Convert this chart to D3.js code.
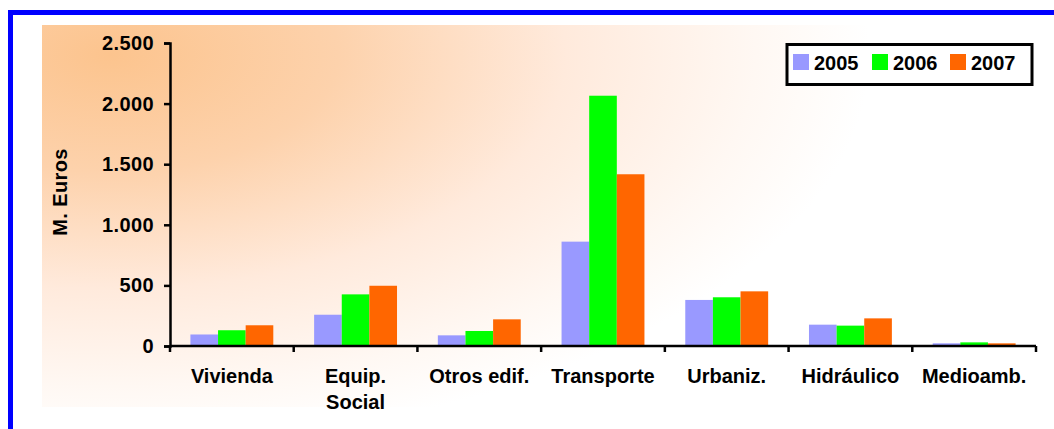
<!DOCTYPE html>
<html>
<head>
<meta charset="utf-8">
<script src="https://cdn.jsdelivr.net/npm/d3@7"></script>
<style>
  html, body { margin: 0; padding: 0; background: #ffffff; }
  svg { display: block; font-family: "Liberation Sans", Arial, sans-serif; }
</style>
</head>
<body>
<svg id="chart" width="1054" height="429"></svg>
<script>
// Inversión por tipo de obra (millones de euros)
const categories = ["Vivienda", "Equip. Social", "Otros edif.", "Transporte", "Urbaniz.", "Hidráulico", "Medioamb."];
const categoryLines = [["Vivienda"], ["Equip.", "Social"], ["Otros edif."], ["Transporte"], ["Urbaniz."], ["Hidráulico"], ["Medioamb."]];
const years = ["2005", "2006", "2007"];
const values2005 = [95, 258, 88, 861, 380, 176, 22];
const values2006 = [130, 426, 124, 2065, 402, 168, 30];
const values2007 = [171, 497, 220, 1417, 451, 228, 22];
const yTicks = [0, 500, 1000, 1500, 2000, 2500];
const yTickLabels = ["0", "500", "1.000", "1.500", "2.000", "2.500"];
const colors = ["#9999ff", "#00ff00", "#ff6600"];

const series = [values2005, values2006, values2007];

const svg = d3.select("#chart");

// Elliptical gradient fading from the top-left corner of the plot area
const defs = svg.append("defs");
const grad = defs.append("radialGradient")
  .attr("id", "bg")
  .attr("gradientUnits", "userSpaceOnUse")
  .attr("cx", 0).attr("cy", 0).attr("r", 1)
  .attr("gradientTransform", "translate(110,55) scale(760,390)");
grad.append("stop").attr("offset", "0").attr("stop-color", "#fcc48e");
grad.append("stop").attr("offset", "0.3").attr("stop-color", "#fdd2ac");
grad.append("stop").attr("offset", "0.6").attr("stop-color", "#ffeadc");
grad.append("stop").attr("offset", "0.85").attr("stop-color", "#fff8f3");
grad.append("stop").attr("offset", "1").attr("stop-color", "#ffffff");

svg.append("rect")
  .attr("x", 42).attr("y", 25).attr("width", 998).attr("height", 382)
  .attr("fill", "url(#bg)");

// Blue frame (top and left edges visible)
svg.append("rect")
  .attr("x", 10.5).attr("y", 12.5).attr("width", 1060).attr("height", 430)
  .attr("fill", "none").attr("stroke", "#0000ff").attr("stroke-width", 5);

const x0 = d3.scaleBand()
  .domain(categories)
  .range([170, 1036])
  .paddingInner(0.33)
  .paddingOuter(0.165);

const x1 = d3.scaleBand()
  .domain(years)
  .range([0, x0.bandwidth()]);

const y = d3.scaleLinear().domain([0, 2500]).range([346, 43]);

// Bars
const groups = svg.append("g").selectAll("g")
  .data(categories)
  .join("g")
  .attr("transform", d => `translate(${x0(d)},0)`);

groups.selectAll("rect")
  .data((d, i) => years.map((yr, k) => ({ yr, k, v: series[k][i] })))
  .join("rect")
  .attr("x", d => x1(d.yr))
  .attr("y", d => y(d.v))
  .attr("width", x1.bandwidth())
  .attr("height", d => y(0) - y(d.v))
  .attr("fill", d => colors[d.k]);

// Y axis
const yAxis = d3.axisLeft(y)
  .tickValues(yTicks)
  .tickFormat((d, i) => yTickLabels[i])
  .tickSize(6)
  .tickPadding(10);

const gy = svg.append("g").attr("transform", "translate(170,0)").call(yAxis);
gy.select(".domain").attr("stroke", "#000").attr("stroke-width", 2.5);
gy.selectAll(".tick line").attr("stroke", "#000").attr("stroke-width", 2.5);
gy.selectAll(".tick text")
  .attr("font-size", 20).attr("font-weight", "bold").attr("fill", "#000")
  .attr("font-family", "Liberation Sans, Arial, sans-serif")
  .style("letter-spacing", "0.4px");

// X axis with ticks between categories
const boundaries = d3.range(categories.length + 1).map(i => 170 + i * x0.step());
const gx = svg.append("g");
gx.append("line")
  .attr("x1", 170).attr("x2", 1036)
  .attr("y1", y(0)).attr("y2", y(0))
  .attr("stroke", "#000").attr("stroke-width", 2.5);
gx.selectAll("line.tk")
  .data(boundaries)
  .join("line")
  .attr("class", "tk")
  .attr("x1", d => d).attr("x2", d => d)
  .attr("y1", y(0)).attr("y2", y(0) + 6)
  .attr("stroke", "#000").attr("stroke-width", 2.5);

// Category labels
const labels = svg.append("g")
  .selectAll("text")
  .data(categories)
  .join("text")
  .attr("x", d => x0(d) + x0.bandwidth() / 2)
  .attr("y", 383)
  .attr("text-anchor", "middle")
  .attr("font-size", 20).attr("font-weight", "bold").attr("fill", "#000");

labels.each(function (d, i) {
  const t = d3.select(this);
  categoryLines[i].forEach((line, j) => {
    t.append("tspan")
      .attr("x", x0(d) + x0.bandwidth() / 2)
      .attr("dy", j === 0 ? 0 : 26)
      .text(line);
  });
});

// Y axis title
svg.append("text")
  .attr("transform", "translate(67,192) rotate(-90)")
  .attr("text-anchor", "middle")
  .attr("font-size", 20).attr("font-weight", "bold").attr("fill", "#000")
  .style("letter-spacing", "0.4px")
  .text("M. Euros");

// Legend
const legend = svg.append("g");
legend.append("rect")
  .attr("x", 787).attr("y", 44.5).attr("width", 245).attr("height", 40)
  .attr("fill", "#ffffff").attr("stroke", "#000").attr("stroke-width", 3);

const legendX = [793, 872, 950];
const items = legend.selectAll("g.item")
  .data(years)
  .join("g")
  .attr("class", "item")
  .attr("transform", (d, i) => `translate(${legendX[i]},54)`);
items.append("rect")
  .attr("width", 16).attr("height", 16)
  .attr("fill", (d, i) => colors[i]);
items.append("text")
  .attr("x", 21).attr("y", 16)
  .attr("font-size", 20).attr("font-weight", "bold").attr("fill", "#000")
  .text(d => d);
</script>
</body>
</html>
